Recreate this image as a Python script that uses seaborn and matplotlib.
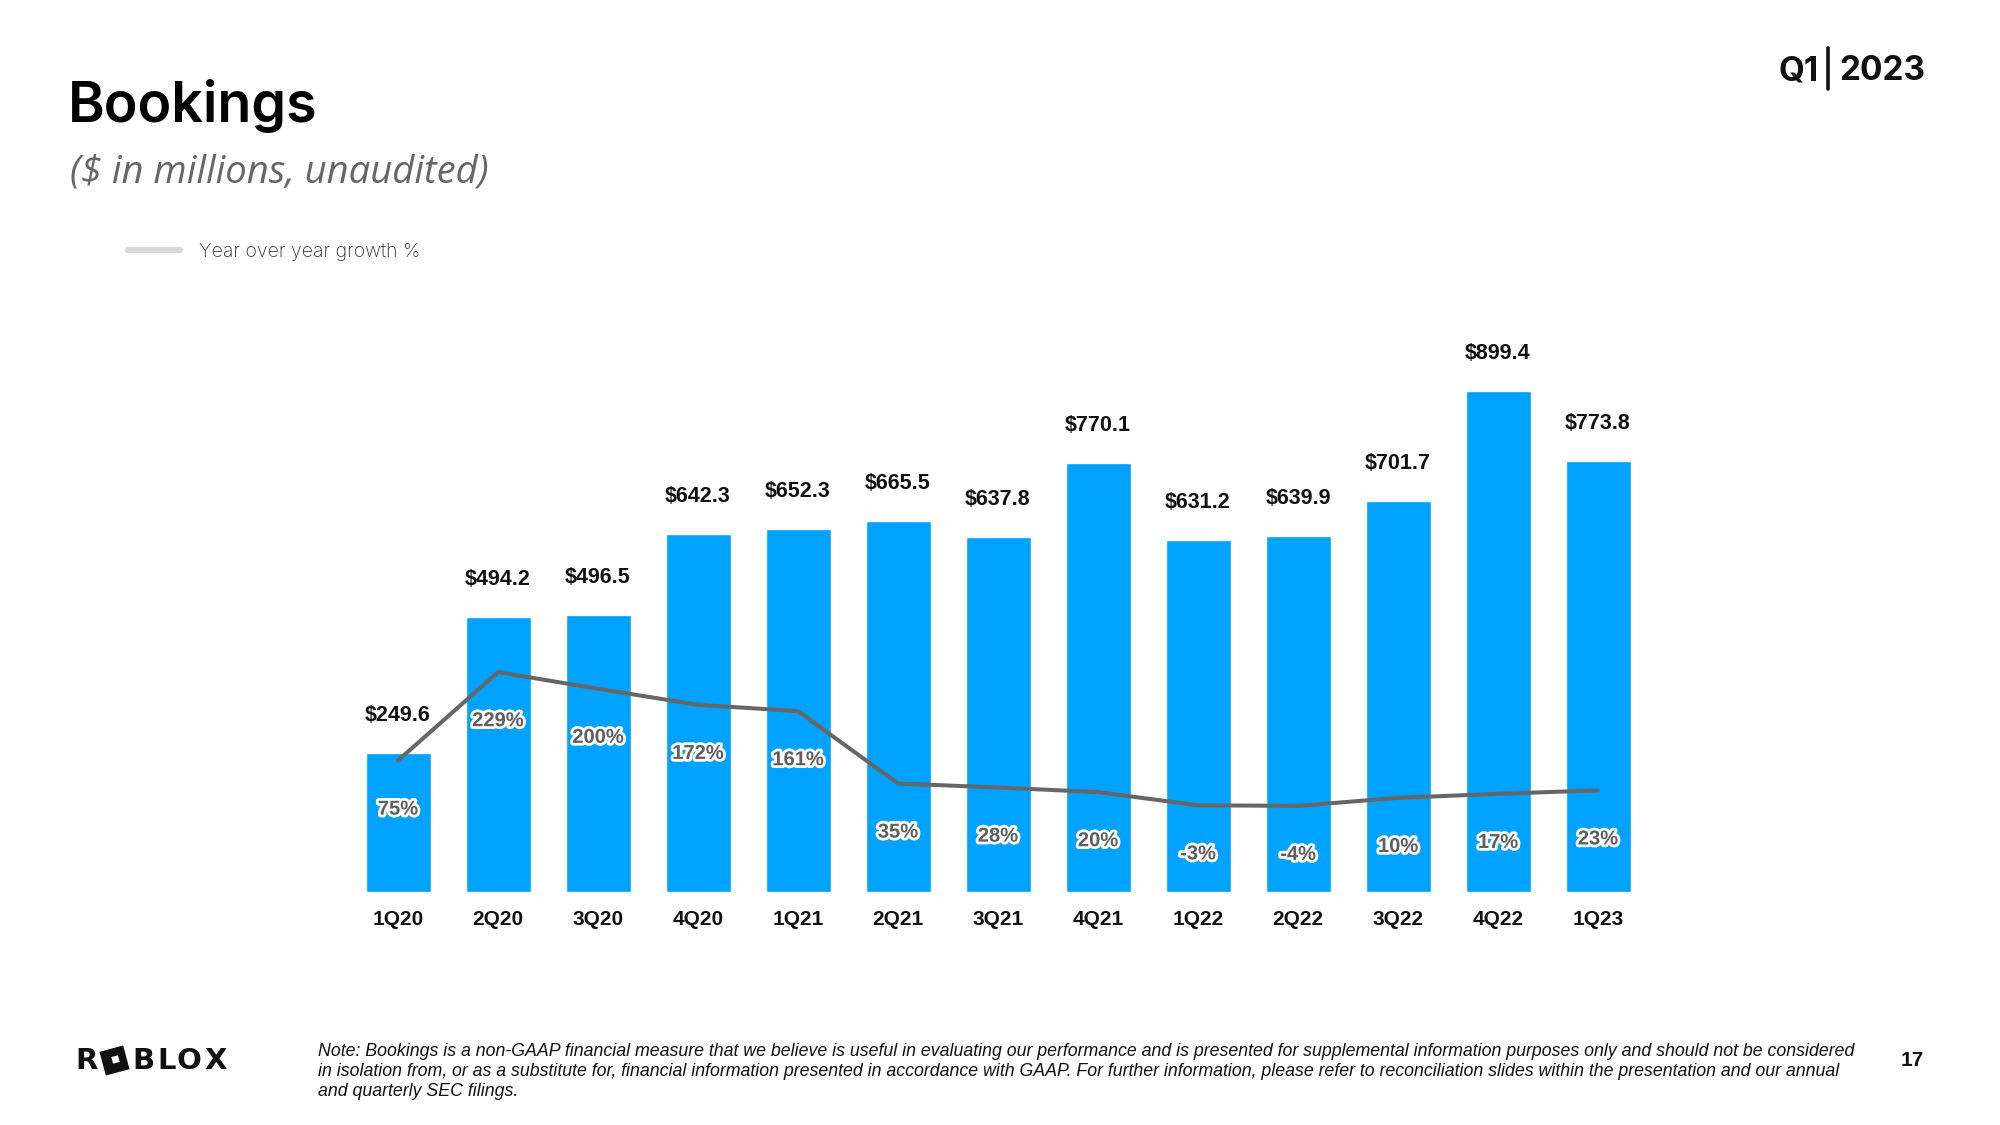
import numpy as np
import pandas as pd
import matplotlib
matplotlib.use("Agg")
import matplotlib.pyplot as plt
import matplotlib.patheffects as pe
from matplotlib.lines import Line2D
import seaborn as sns

quarters = ["1Q20", "2Q20", "3Q20", "4Q20", "1Q21", "2Q21", "3Q21",
            "4Q21", "1Q22", "2Q22", "3Q22", "4Q22", "1Q23"]
bookings = [249.6, 494.2, 496.5, 642.3, 652.3, 665.5, 637.8,
            770.1, 631.2, 639.9, 701.7, 899.4, 773.8]
yoy_growth = [75, 229, 200, 172, 161, 35, 28, 20, -3, -4, 10, 17, 23]

BAR = "#00A2FF"
LINE = "#666666"

sns.set_theme(style="white")
plt.rcParams["font.family"] = ["Liberation Sans", "DejaVu Sans"]

df = pd.DataFrame({"quarter": quarters, "bookings": bookings, "yoy": yoy_growth})

W, H = 2000, 1125
fig = plt.figure(figsize=(20, 11.25), dpi=100)
ax = fig.add_axes([0.174, 0.2071, 0.65, 0.4951])
sns.barplot(data=df, x="quarter", y="bookings", color=BAR, width=0.65,
            saturation=1, ax=ax)
ax.set_ylim(0, 1000)
ax.set_xlim(-0.5, len(quarters) - 0.5)
for s in ax.spines.values():
    s.set_visible(False)
ax.set_yticks([])
ax.set_xlabel("")
ax.set_ylabel("")
ax.tick_params(axis="x", length=0, pad=13, labelsize=15, labelcolor="#111111")
for lbl in ax.get_xticklabels():
    lbl.set_fontweight("bold")

for i, v in enumerate(bookings):
    ax.annotate(f"${v:.1f}", (i, v), xytext=(0, 27), textcoords="offset points",
                ha="center", va="center", fontsize=15.5, fontweight="bold",
                color="#111111")

ax2 = ax.twinx()
sns.lineplot(x=np.arange(len(quarters)), y=yoy_growth, color=LINE,
             linewidth=2.9, ax=ax2)
ax2.set_ylim(-154, 816)
ax2.set_yticks([])
for s in ax2.spines.values():
    s.set_visible(False)

for i, g in enumerate(yoy_growth):
    ax2.annotate(f"{g}%", (i, g), xytext=(0, -35), textcoords="offset points",
                 ha="center", va="center", fontsize=14.5, fontweight="bold",
                 color="#5e5e5e",
                 path_effects=[pe.withStroke(linewidth=4, foreground="white")])

# legend
handle = Line2D([0], [0], color="#d9d9d9", linewidth=4.5)
leg = fig.legend([handle], ["Year over year growth %"], loc="center left",
                 bbox_to_anchor=(0.055, 1 - 252 / H), frameon=False,
                 handlelength=2.7, handletextpad=1.0,
                 prop={"family": ["Inter", "DejaVu Sans"], "size": 14, "weight": "light"})
for t in leg.get_texts():
    t.set_color("#333333")

# titles
fig.text(68 / W, 1 - 106 / H, "Bookings", fontsize=40,
         family=["Inter", "DejaVu Sans"], fontweight="semibold", color="black",
         ha="left", va="center")
fig.text(70 / W, 1 - 173 / H, "($ in millions, unaudited)", fontsize=27.5,
         family=["Open Sans", "DejaVu Sans"], style="italic", fontweight="normal",
         color="#666666", ha="left", va="center")

# Q1 | 2023
fig.text(1819 / W, 1 - 71 / H, "Q1", fontsize=24, fontweight="bold",
         family=["Inter", "DejaVu Sans"], ha="right", va="center", color="#111111")
fig.text(1839 / W, 1 - 71 / H, "2023", fontsize=24, fontweight="bold",
         family=["Inter", "DejaVu Sans"], ha="left", va="center", color="#111111")
fig.add_artist(Line2D([1828 / W, 1828 / W], [1 - 48 / H, 1 - 89 / H],
                      transform=fig.transFigure, color="#111111", linewidth=2.6))

# logo
logo_y = 1 - 1061 / H
for ch, xl in [("R", 75), ("B", 132), ("L", 157), ("O", 177), ("X", 204)]:
    fig.text(xl / W, logo_y, ch, fontsize=21, fontweight="bold",
             family=["DejaVu Sans"], ha="left", va="center", color="#111111")
fig.add_artist(Line2D([114 / W], [logo_y + 1 / H], transform=fig.transFigure,
                      marker=(4, 0, 60), markersize=25, color="#111111",
                      markeredgewidth=0, linestyle="none"))
fig.add_artist(Line2D([115 / W], [logo_y + 2 / H], transform=fig.transFigure,
                      marker=(4, 0, 60), markersize=7, color="white",
                      markeredgewidth=0, linestyle="none"))

# note
note = ("Note: Bookings is a non-GAAP financial measure that we believe is useful in evaluating our performance and is presented for supplemental information purposes only and should not be considered\n"
        "in isolation from, or as a substitute for, financial information presented in accordance with GAAP. For further information, please refer to reconciliation slides within the presentation and our annual\n"
        "and quarterly SEC filings.")
fig.text(318 / W, 1 - 1043 / H, note, fontsize=12.8, style="italic",
         family=["Liberation Sans", "DejaVu Sans"], ha="left", va="top",
         color="#111111", linespacing=1.25)

fig.text(1912 / W, 1 - 1061 / H, "17", fontsize=15, fontweight="bold",
         ha="center", va="center", color="#111111")

fig.savefig("out.png", dpi=100, facecolor="white")
